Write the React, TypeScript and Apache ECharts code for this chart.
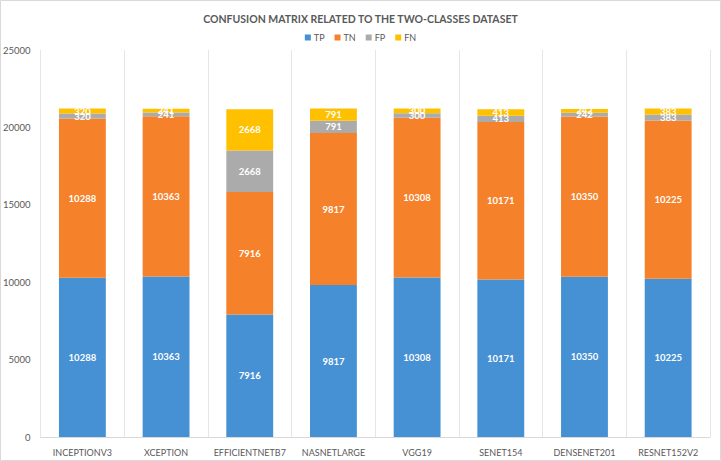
import React, { useEffect, useRef } from "react";
import * as echarts from "echarts";

const categories = ["INCEPTIONV3", "XCEPTION", "EFFICIENTNETB7", "NASNETLARGE", "VGG19", "SENET154", "DENSENET201", "RESNET152V2"];
const tp = [10288, 10363, 7916, 9817, 10308, 10171, 10350, 10225];
const tn = [10288, 10363, 7916, 9817, 10308, 10171, 10350, 10225];
const fp = [320, 241, 2668, 791, 300, 413, 242, 383];
const fn = [320, 241, 2668, 791, 300, 413, 242, 383];
const seriesNames = ["TP", "TN", "FP", "FN"];
const colors = ["#4690d4", "#f5822a", "#ababab", "#ffc000"];

export default function App() {
  const ref = useRef<HTMLDivElement>(null);
  useEffect(() => {
    document.body.style.margin = "0";
    const chart = echarts.init(ref.current!, null, { renderer: "svg" });
    const font = "Lato, 'Open Sans', sans-serif";
    const data = [tp, tn, fp, fn];
    chart.setOption({
      animation: false,
      textStyle: { fontFamily: font },
      title: {
        text: "CONFUSION MATRIX RELATED TO THE TWO-CLASSES DATASET",
        left: "center",
        top: 8,
        textStyle: { fontSize: 10.5, fontWeight: "bold", color: "#595959", fontFamily: font },
      },
      legend: {
        top: 28,
        left: "center",
        itemWidth: 6,
        itemHeight: 6,
        itemGap: 10,
        icon: "rect",
        textStyle: { fontSize: 9, color: "#595959", padding: [0, 0, 0, -2] },
        data: seriesNames,
      },
      graphic: [
        {
          type: "rect",
          shape: { x: 0.5, y: 0.5, width: 720, height: 460 },
          style: { fill: "none", stroke: "#d9d9d9", lineWidth: 1 },
          silent: true,
        },
      ],
      grid: { left: 40, right: 11, top: 50, bottom: 24, containLabel: false },
      xAxis: {
        type: "category",
        data: categories,
        axisLine: { lineStyle: { color: "#d9d9d9" } },
        axisTick: { show: false },
        splitLine: { show: true, lineStyle: { color: "#e6e6e6" } },
        axisLabel: { fontSize: 9, color: "#595959", margin: 11, interval: 0 },
      },
      yAxis: {
        type: "value",
        min: 0,
        max: 25000,
        interval: 5000,
        axisLine: { show: false },
        axisTick: { show: false },
        splitLine: { show: false },
        axisLabel: { fontSize: 9.5, color: "#595959", margin: 10, formatter: (v: number) => String(v) },
      },
      series: seriesNames.map((name, i) => ({
        name,
        type: "bar",
        stack: "total",
        barWidth: "56%",
        data: data[i],
        itemStyle: { color: colors[i] },
        label: {
          show: true,
          position: "inside",
          color: "#ffffff",
          fontSize: 9.5,
          fontWeight: "bold",
          fontFamily: font,
        },
      })),
    });
    return () => chart.dispose();
  }, []);
  return <div ref={ref} style={{ position: "absolute", left: 0, top: 0, width: 721, height: 461 }} />;
}
